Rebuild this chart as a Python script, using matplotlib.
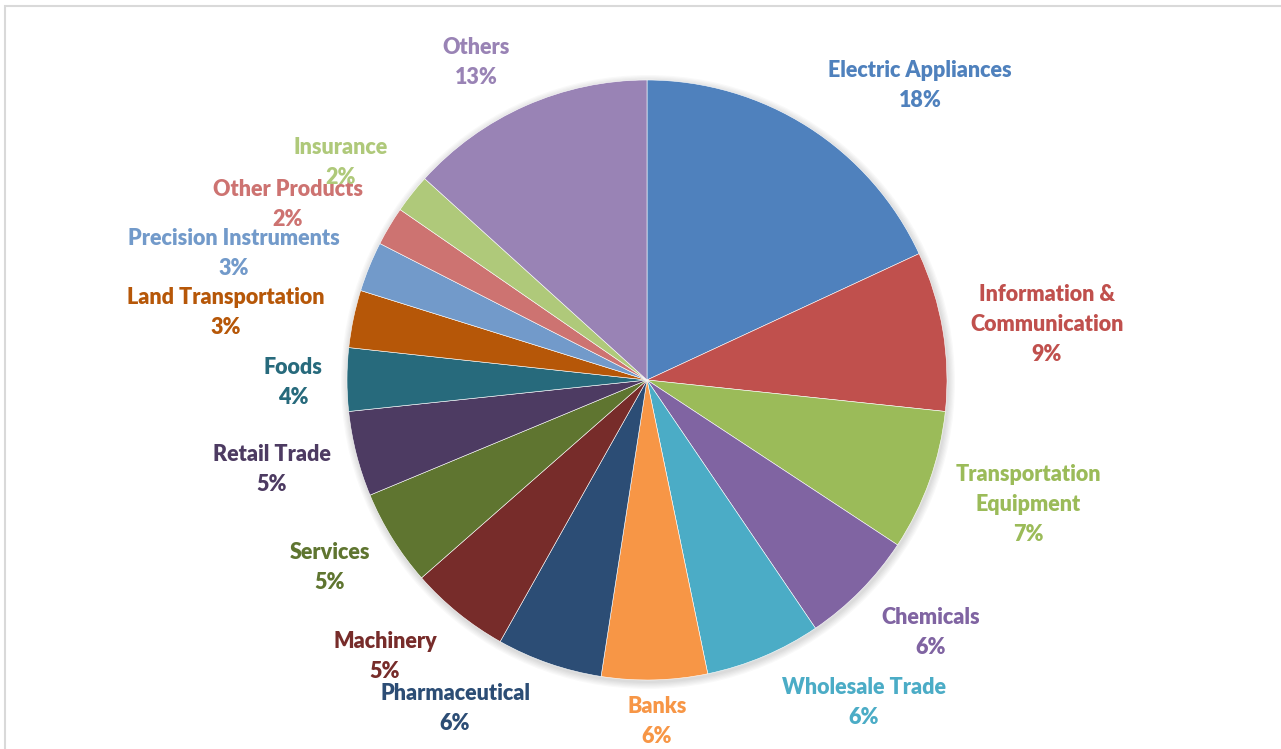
import matplotlib.pyplot as plt
from matplotlib.patches import Circle, Rectangle

# sector shares
sectors = ['Electric Appliances', 'Information &\nCommunication', 'Transportation\nEquipment',
           'Chemicals', 'Wholesale Trade', 'Banks', 'Pharmaceutical', 'Machinery',
           'Services', 'Retail Trade', 'Foods', 'Land Transportation',
           'Precision Instruments', 'Other Products', 'Insurance', 'Others']
shares = [18.1, 8.6, 7.6, 6.25, 6.25, 5.7, 5.7, 5.4, 5.2, 4.6, 3.4, 3.1, 2.7, 2.1, 2.1, 13.3]
pct_labels = ['18%', '9%', '7%', '6%', '6%', '6%', '6%', '5%',
              '5%', '5%', '4%', '3%', '3%', '2%', '2%', '13%']
colors = ['#4F81BD', '#C0504D', '#9BBB59', '#8064A2', '#4BACC6', '#F79646',
          '#2C4D75', '#772C2A', '#5F7530', '#4D3B62', '#276A7C', '#B65708',
          '#729ACA', '#CD7371', '#AFC97A', '#9983B5']

# label anchor (centre of top line) in pixel coords, y from top
label_pos = [(920, 70), (1047, 294), (1028, 474), (931, 617), (864, 687), (657, 706),
             (455, 693), (385, 641), (330, 552), (272, 454), (293, 367), (226, 297),
             (234, 238), (288, 189), (341, 147), (476, 47)]

W, H = 1281, 749
fig = plt.figure(figsize=(W / 100, H / 100), dpi=100)
ax = fig.add_axes([0, 0, 1, 1])

# chart frame (only left/top visible in the crop)
ax.add_patch(Rectangle((5, -10), W + 20, H - 6 + 10, fill=False, edgecolor='#d9d9d9', lw=1.5))

cx, cy, r = 647, H - 380, 300

# soft shadow
for i in range(6):
    ax.add_patch(Circle((cx + 1, cy - 2), r + 1 + i * 1.2, color='black', alpha=0.025, lw=0, zorder=1))

wedges, _ = ax.pie(shares, colors=colors, startangle=90, counterclock=False,
                   center=(cx, cy), radius=r, frame=True,
                   wedgeprops=dict(edgecolor='white', linewidth=0.4))
for w in wedges:
    w.set_zorder(2)
ax.set_xlim(0, W)
ax.set_ylim(0, H)
ax.set_aspect('equal')
ax.axis('off')

for name, pct, col, (x, y) in zip(sectors, pct_labels, colors, label_pos):
    ax.text(x, H - y + 10, name + '\n' + pct, color=col, ha='center', va='top',
            fontsize=15.5, fontweight='heavy', family='Lato', linespacing=1.53, zorder=3)

fig.savefig('out.png', dpi=100)
